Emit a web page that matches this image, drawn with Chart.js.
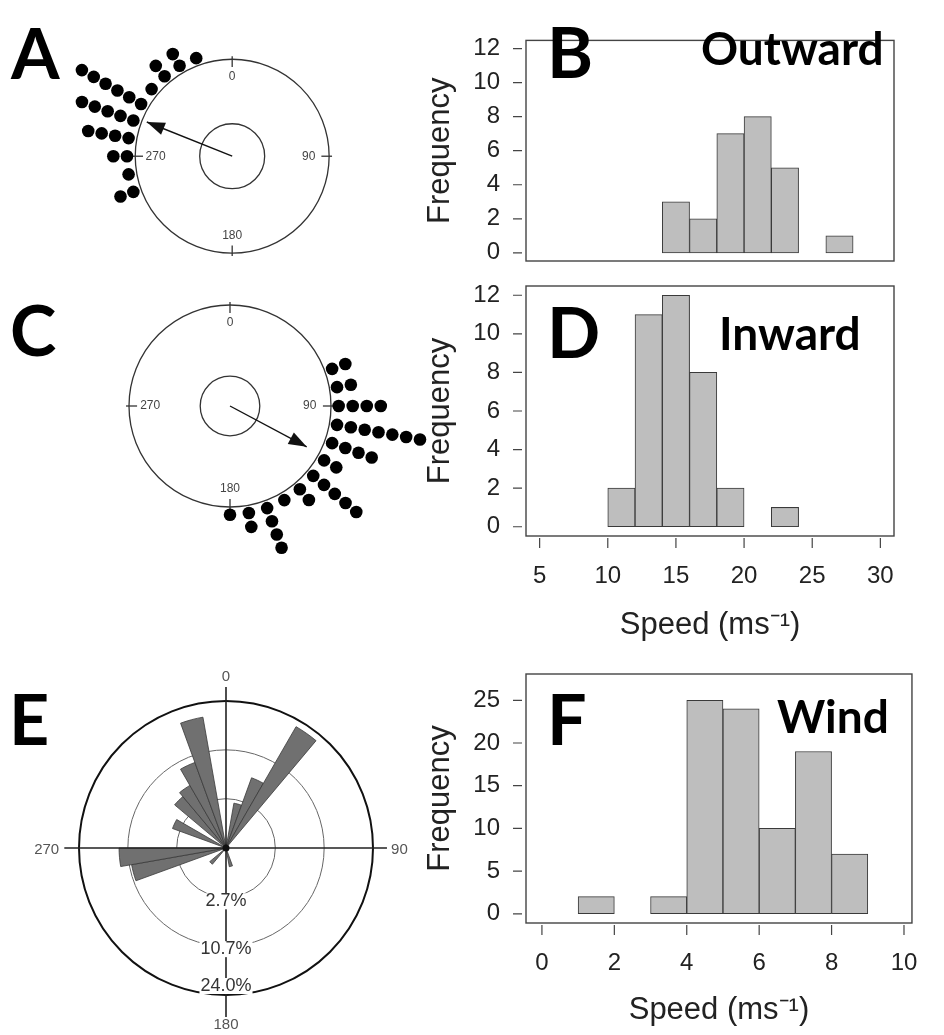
<!DOCTYPE html>
<html>
<head>
<meta charset="utf-8">
<script src="https://cdn.jsdelivr.net/npm/chart.js@4.4.1/dist/chart.umd.min.js"></script>
<style>
  html, body { margin: 0; padding: 0; background: #fff; overflow: hidden; }
  #wrap { position: relative; width: 944px; height: 1035px; }
  canvas { position: absolute; left: 0; top: 0; pointer-events: none; }
</style>
</head>
<body>
<div id="wrap">
  <canvas id="panelA" width="944" height="1035"></canvas>
  <canvas id="panelB" width="944" height="1035"></canvas>
  <canvas id="panelC" width="944" height="1035"></canvas>
  <canvas id="panelD" width="944" height="1035"></canvas>
  <canvas id="panelE" width="944" height="1035"></canvas>
  <canvas id="panelF" width="944" height="1035"></canvas>
</div>
<script>
// --- A: outward headings, 10 deg bins, one dot per track
const outwardBins = [250, 260, 270, 280, 290, 300, 310, 320, 330, 340];
const outwardCounts = [2, 1, 2, 4, 5, 6, 1, 2, 2, 1];
const outwardMeanDir = 292;
const outwardMeanLen = 0.95;
const outwardRing = 0.335;

// --- C: inward headings
const inwardBins = [70, 80, 90, 100, 110, 120, 130, 140, 150, 160, 170, 180];
const inwardCounts = [2, 2, 4, 7, 4, 2, 5, 2, 1, 4, 2, 1];
const inwardMeanDir = 118;
const inwardMeanLen = 0.86;
const inwardRing = 0.295;

// --- B / D: speed histograms (bin mids, 2 m/s wide)
const outwardSpeedMids = [15, 17, 19, 21, 23, 25, 27];
const outwardSpeedFreq = [3, 2, 7, 8, 5, 0, 1];
const inwardSpeedMids = [11, 13, 15, 17, 19, 21, 23];
const inwardSpeedFreq = [2, 11, 12, 8, 2, 0, 1];
const speedTicks = [5, 10, 15, 20, 25, 30];
const freqTicks = [0, 2, 4, 6, 8, 10, 12];

// --- E: wind direction rose, % per 10 deg sector from north
const windDirPct = [
  0, 2.3, 6.2, 21.8, 0, 0, 0, 0, 0, 0, 0, 0,
  0, 0, 0, 0, 0.4, 0, 0, 0, 0, 0, 0.5, 0,
  0, 10.2, 12.7, 0, 0, 3.6, 0, 5.0, 5.8, 9.2, 19.6, 0
];
const ringPct = [2.7, 10.7, 24.0];
const compassLabels = ['0', '90', '180', '270'];

// --- F: wind speed histogram (1 m/s bins)
const windSpeedMids = [1.5, 2.5, 3.5, 4.5, 5.5, 6.5, 7.5, 8.5];
const windSpeedFreq = [2, 0, 2, 25, 24, 10, 19, 7];
const windSpeedTicks = [0, 2, 4, 6, 8, 10];
const windFreqTicks = [0, 5, 10, 15, 20, 25];

const SANS = '"Liberation Sans", Arial, sans-serif';
const BOLD = 'bold 70px Lato, "Open Sans", sans-serif';
const BOLD_T = 'bold 46px Lato, "Open Sans", sans-serif';
const rad = d => d * Math.PI / 180;

// big panel letters and titles
const panelText = {
  id: 'panelText',
  afterDraw(chart, args, o) {
    const ctx = chart.ctx;
    ctx.save();
    ctx.fillStyle = '#000';
    ctx.textAlign = 'left';
    ctx.textBaseline = 'alphabetic';
    (o.items || []).forEach(it => {
      ctx.font = it.font;
      ctx.fillText(it.text, it.x, it.y);
    });
    ctx.restore();
  }
};

// circle, inner ring, compass ticks, mean vector arrowhead
const circlePlot = {
  id: 'circlePlot',
  beforeDatasetsDraw(chart, args, o) {
    const { ctx, scales: { x, y } } = chart;
    const cx = x.getPixelForValue(0), cy = y.getPixelForValue(0);
    const R = x.getPixelForValue(1) - cx;
    ctx.save();
    ctx.strokeStyle = '#333';
    ctx.lineWidth = 1.3;
    ctx.beginPath(); ctx.arc(cx, cy, R, 0, 2 * Math.PI); ctx.stroke();
    ctx.beginPath(); ctx.arc(cx, cy, R * o.ring, 0, 2 * Math.PI); ctx.stroke();
    ctx.font = '12px ' + SANS;
    ctx.fillStyle = '#444';
    ctx.textAlign = 'center';
    ctx.textBaseline = 'middle';
    compassLabels.forEach(lab => {
      const a = rad(+lab), s = Math.sin(a), c = -Math.cos(a);
      ctx.beginPath();
      ctx.moveTo(cx + s * R * 0.92, cy + c * R * 0.92);
      ctx.lineTo(cx + s * R * 1.03, cy + c * R * 1.03);
      ctx.stroke();
      const lr = (+lab % 180 === 0) ? 0.82 : 0.79;
      ctx.fillText(lab, cx + s * R * lr, cy + c * R * lr);
    });
    ctx.restore();
  },
  afterDatasetsDraw(chart) {
    const meta = chart.getDatasetMeta(1);
    const p0 = meta.data[0], p1 = meta.data[1];
    const ang = Math.atan2(p1.y - p0.y, p1.x - p0.x);
    const ctx = chart.ctx, L = 18, W = 6.5;
    ctx.save();
    ctx.fillStyle = '#111';
    ctx.translate(p1.x, p1.y);
    ctx.rotate(ang);
    ctx.beginPath();
    ctx.moveTo(0, 0); ctx.lineTo(-L, -W); ctx.lineTo(-L, W); ctx.closePath();
    ctx.fill();
    ctx.restore();
  }
};

function stackPoints(bins, counts, r0, step) {
  const pts = [];
  bins.forEach((deg, i) => {
    for (let k = 0; k < counts[i]; k++) {
      const r = r0 + k * step;
      pts.push({ x: r * Math.sin(rad(deg)), y: r * Math.cos(rad(deg)) });
    }
  });
  return pts;
}

function circularPanel(id, o) {
  const [l, t, r, b] = o.box;
  new Chart(document.getElementById(id), {
    type: 'scatter',
    data: {
      datasets: [
        { data: stackPoints(o.bins, o.counts, o.r0, o.step), pointRadius: 6.3,
          backgroundColor: '#000', borderWidth: 0 },
        { data: [{ x: 0, y: 0 }, { x: o.len * Math.sin(rad(o.dir)), y: o.len * Math.cos(rad(o.dir)) }],
          showLine: true, pointRadius: 0, borderColor: '#111', borderWidth: 1.4 }
      ]
    },
    plugins: [circlePlot, panelText],
    options: {
      responsive: false, animation: false,
      layout: { padding: { left: l, top: t, right: 944 - r, bottom: 1035 - b } },
      plugins: {
        legend: { display: false }, tooltip: { enabled: false },
        circlePlot: { ring: o.ring },
        panelText: { items: o.text }
      },
      scales: {
        x: { type: 'linear', display: false, min: (l - o.cx) / o.R, max: (r - o.cx) / o.R },
        y: { type: 'linear', display: false, min: (o.cy - b) / o.R, max: (o.cy - t) / o.R }
      }
    }
  });
}

// box + detached tick marks, R style
const frame = {
  id: 'frame',
  afterDraw(chart, args, o) {
    const { ctx, chartArea: a, scales: { x, y } } = chart;
    ctx.save();
    ctx.strokeStyle = '#444';
    ctx.lineWidth = 1.4;
    ctx.strokeRect(a.left, a.top, a.right - a.left, a.bottom - a.top);
    ctx.lineWidth = 1.2;
    ctx.beginPath();
    y.ticks.forEach(tk => {
      const py = y.getPixelForValue(tk.value);
      ctx.moveTo(a.left - 13, py); ctx.lineTo(a.left - 4, py);
    });
    if (o.xTicks) {
      x.ticks.forEach(tk => {
        const px = x.getPixelForValue(tk.value);
        ctx.moveTo(px, a.bottom + 2); ctx.lineTo(px, a.bottom + 12);
      });
    }
    ctx.stroke();
    ctx.restore();
  }
};

function histPanel(id, mids, freq, o) {
  new Chart(document.getElementById(id), {
    type: 'bar',
    data: {
      datasets: [{
        data: mids.map((m, i) => ({ x: m, y: freq[i] })),
        backgroundColor: '#bebebe', borderColor: '#3a3a3a', borderWidth: 1,
        borderSkipped: false, barPercentage: 1, categoryPercentage: 1
      }]
    },
    plugins: [frame, panelText],
    options: {
      responsive: false, animation: false,
      layout: { padding: o.pad },
      plugins: {
        legend: { display: false }, tooltip: { enabled: false },
        frame: { xTicks: o.showX },
        panelText: { items: o.text }
      },
      scales: {
        x: {
          type: 'linear', offset: false, min: o.xMin, max: o.xMax, display: o.showX,
          afterBuildTicks: s => { s.ticks = o.xTicks.map(v => ({ value: v })); },
          afterFit: s => { s.height = o.xH; },
          grid: { display: false, drawTicks: false, tickLength: 0, offset: false },
          border: { display: false },
          ticks: { padding: 26, autoSkip: false, maxRotation: 0, color: '#222', font: { family: SANS, size: 24 } },
          title: { display: true, text: 'Speed (ms⁻¹)', color: '#222',
                   font: { family: SANS, size: 31 }, padding: { top: 0, bottom: o.titlePad } }
        },
        y: {
          type: 'linear', min: o.yMin, max: o.yMax,
          afterBuildTicks: s => { s.ticks = o.yTicks.map(v => ({ value: v })); },
          afterFit: s => { s.width = 126; },
          grid: { display: false, drawTicks: false, tickLength: 0 },
          border: { display: false },
          ticks: { padding: 26, autoSkip: false, color: '#222', font: { family: SANS, size: 24 } },
          title: { display: true, text: 'Frequency', color: '#222',
                   font: { family: SANS, size: 31 }, padding: { top: 22, bottom: 0 } }
        }
      }
    }
  });
}

// rose: cross axes, compass labels, ring labels
const roseDecor = {
  id: 'roseDecor',
  afterDatasetsDraw(chart) {
    const r = chart.scales.r, ctx = chart.ctx;
    const cx = r.xCenter, cy = r.yCenter, R = r.drawingArea;
    ctx.save();
    ctx.strokeStyle = '#222';
    ctx.lineWidth = 1.6;
    ctx.beginPath();
    ctx.moveTo(cx - 1.1 * R, cy); ctx.lineTo(cx + 1.095 * R, cy);
    ctx.moveTo(cx, cy - 1.095 * R); ctx.lineTo(cx, cy + 1.15 * R);
    ctx.stroke();
    ctx.fillStyle = '#111';
    ctx.beginPath(); ctx.arc(cx, cy, 3.5, 0, 2 * Math.PI); ctx.fill();

    ctx.font = '15px ' + SANS;
    ctx.fillStyle = '#555';
    ctx.textAlign = 'center';
    ctx.textBaseline = 'middle';
    ctx.fillText(compassLabels[0], cx, cy - 1.165 * R);
    ctx.fillText(compassLabels[1], cx + 1.18 * R, cy + 2);
    ctx.fillText(compassLabels[2], cx, cy + 1.2 * R);
    ctx.fillText(compassLabels[3], cx - 1.22 * R, cy + 2);

    ctx.font = '18px ' + SANS;
    const offs = [4, 3, -9];
    ringPct.forEach((p, i) => {
      const ry = cy + r.getDistanceFromCenterForValue(Math.sqrt(p)) + offs[i];
      const txt = p.toFixed(1) + '%';
      const w = ctx.measureText(txt).width;
      ctx.fillStyle = '#fff';
      ctx.fillRect(cx - w / 2 - 1, ry - 8, w + 2, 16);
      ctx.fillStyle = '#333';
      ctx.fillText(txt, cx, ry);
    });
    ctx.restore();
  }
};

circularPanel('panelA', {
  bins: outwardBins, counts: outwardCounts, dir: outwardMeanDir, len: outwardMeanLen,
  ring: outwardRing, cx: 229.5, cy: 153.5, R: 98.5, r0: 1.085, step: 0.141,
  box: [0, 0, 400, 270],
  text: [{ text: 'A', x: 11, y: 79, font: BOLD }]
});

circularPanel('panelC', {
  bins: inwardBins, counts: inwardCounts, dir: inwardMeanDir, len: inwardMeanLen,
  ring: inwardRing, cx: 230, cy: 406, R: 101, r0: 1.076, step: 0.139,
  box: [80, 280, 450, 570],
  text: [{ text: 'C', x: 10, y: 356, font: BOLD }]
});

histPanel('panelB', outwardSpeedMids, outwardSpeedFreq, {
  pad: { left: 400, top: 12, right: 50, bottom: 774 },
  xMin: 4, xMax: 31, yMin: -0.48, yMax: 12.48, xTicks: speedTicks, yTicks: freqTicks,
  showX: false, xH: 0, titlePad: 0,
  text: [{ text: 'B', x: 547, y: 78, font: BOLD }, { text: 'Outward', x: 701, y: 65, font: BOLD_T }]
});

histPanel('panelD', inwardSpeedMids, inwardSpeedFreq, {
  pad: { left: 400, top: 286, right: 50, bottom: 375 },
  xMin: 4, xMax: 31, yMin: -0.48, yMax: 12.48, xTicks: speedTicks, yTicks: freqTicks,
  showX: true, xH: 124, titlePad: 16,
  text: [{ text: 'D', x: 547, y: 358, font: BOLD }, { text: 'Inward', x: 719, y: 350, font: BOLD_T }]
});

histPanel('panelF', windSpeedMids, windSpeedFreq, {
  pad: { left: 400, top: 674, right: 32, bottom: 0 },
  xMin: -0.44, xMax: 10.22, yMin: -1.08, yMax: 28.08, xTicks: windSpeedTicks, yTicks: windFreqTicks,
  showX: true, xH: 112, titlePad: 6,
  text: [{ text: 'F', x: 547, y: 745, font: BOLD }, { text: 'Wind', x: 777, y: 733, font: BOLD_T }]
});

new Chart(document.getElementById('panelE'), {
  type: 'polarArea',
  data: {
    labels: windDirPct.map((_, i) => i * 10),
    datasets: [{
      data: windDirPct.map(p => Math.sqrt(p)),
      backgroundColor: '#707070', borderColor: '#3a3a3a', borderWidth: 0.8
    }]
  },
  plugins: [roseDecor, panelText],
  options: {
    responsive: false, animation: false,
    layout: { padding: { left: 79, top: 701, right: 571, bottom: 40 } },
    plugins: {
      legend: { display: false }, tooltip: { enabled: false },
      panelText: { items: [{ text: 'E', x: 9, y: 745, font: BOLD }] }
    },
    scales: {
      r: {
        min: 0, max: Math.sqrt(ringPct[2]),
        afterBuildTicks: s => { s.ticks = [0, ...ringPct].map(p => ({ value: Math.sqrt(p) })); },
        ticks: { display: false },
        angleLines: { display: false },
        pointLabels: { display: false },
        grid: {
          circular: true,
          color: c => c.index === 3 ? '#111' : '#666',
          lineWidth: c => c.index === 3 ? 2 : 1
        }
      }
    }
  }
});
</script>
</body>
</html>
